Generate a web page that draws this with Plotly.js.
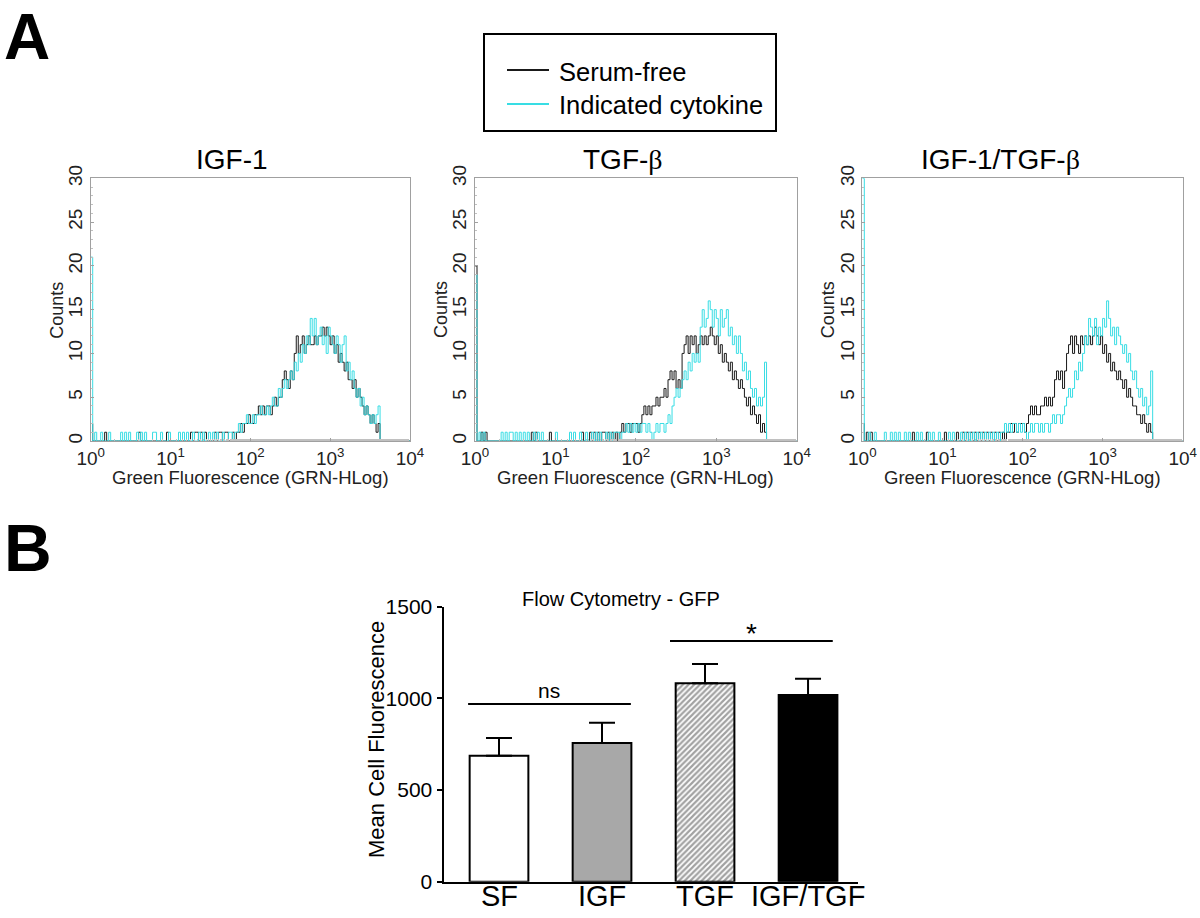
<!DOCTYPE html>
<html>
<head>
<meta charset="utf-8">
<script src="https://cdn.plot.ly/plotly-3.0.1.min.js"></script>
<style>html,body{margin:0;padding:0;background:#fff;}#chart{width:1200px;height:918px;}</style>
</head>
<body>
<div id="chart"></div>
<script>
// ---------- Panel A: flow cytometry histograms (counts per log channel, 40 channels/decade) ----------
const channelsPerDecade = 40;
const panelTitles = ['IGF-1', 'TGF-<span style="font-family:\'Liberation Serif\',serif">β</span>', 'IGF-1/TGF-<span style="font-family:\'Liberation Serif\',serif">β</span>'];
const seriesNames = ['Serum-free', 'Indicated cytokine'];
const xTickVals = [1, 10, 100, 1000, 10000];
const xTickText = ['10<sup>0</sup>', '10<sup>1</sup>', '10<sup>2</sup>', '10<sup>3</sup>', '10<sup>4</sup>'];
const yTickVals = [0, 5, 10, 15, 20, 25, 30];

const igfSerumFree = [
 2,0,0,0,0,0,0,1,0,0, 0,0,0,0,0,0,0,0,0,0, 0,0,0,0,1,0,0,0,0,0, 0,0,0,0,0,0,0,0,1,0,
 0,0,0,0,0,0,0,0,0,0, 1,0,1,1,0,1,0,1,0,0, 0,0,1,0,1,1,0,1,1,0, 0,1,0,1,1,2,1,2,2,3,
 2,2,3,3,4,3,4,3,4,4, 3,4,5,4,5,5,7,8,7,6, 8,7,10,12,10,11,12,10,11,12, 11,11,12,11,12,12,13,12,13,12,
 11,12,10,11,9,10,9,8,9,7, 7,6,7,5,6,5,4,3,4,3, 2,3,2,1,2,0,0,0,0,0, 0,0,0,0,0,0,0,0,0,0];
const igfCytokine = [
 21,0,1,0,0,1,0,0,0,1, 0,0,0,0,0,1,0,1,0,1, 0,0,0,1,0,1,0,1,0,0, 0,1,1,0,0,1,0,0,0,1,
 0,0,0,0,1,0,1,0,1,0, 0,1,0,0,1,0,1,0,0,1, 0,1,0,1,0,0,1,0,0,1, 1,0,1,1,2,1,2,2,3,2,
 2,3,2,3,3,4,3,3,4,3, 4,5,4,4,6,5,6,7,6,7, 8,7,9,8,10,9,11,10,12,11, 14,12,14,11,12,13,11,12,10,13,
 12,11,10,12,11,9,11,12,8,9, 7,8,6,5,6,4,5,3,4,3, 2,3,2,3,4,0,0,0,0,0, 0,0,0,0,0,0,0,0,0,0];
const tgfSerumFree = [
 20,0,0,1,0,1,0,0,0,0, 0,0,0,0,0,0,0,0,0,0, 0,0,0,0,0,0,0,0,1,0, 1,0,0,0,0,0,0,1,0,0,
 0,0,0,0,0,0,0,0,0,0, 0,0,0,1,0,0,0,1,0,1, 0,1,0,1,1,0,1,0,1,0, 1,0,1,2,1,2,2,1,2,2,
 2,1,2,3,4,3,4,3,4,4, 5,4,5,5,6,5,7,8,7,8, 6,7,6,10,11,12,10,12,11,12, 10,11,12,11,12,11,12,13,12,11,
 12,10,11,9,10,9,8,9,7,8, 7,6,7,6,5,4,5,3,4,3, 2,3,1,2,1,0,0,0,0,0, 0,0,0,0,0,0,0,0,0,0];
const tgfCytokine = [
 19,0,1,0,1,0,0,0,0,0, 0,0,0,1,0,1,0,1,1,0, 1,0,1,0,1,0,1,0,0,1, 0,1,0,1,0,0,0,0,0,0,
 1,0,0,0,0,0,0,1,0,1, 0,0,1,0,0,1,0,0,1,0, 1,0,1,0,0,1,0,1,0,1, 1,1,0,1,1,2,1,2,1,2,
 1,2,1,2,2,1,2,1,0,1, 2,1,2,2,1,2,3,2,4,5, 6,5,6,7,8,7,9,8,10,9, 10,9,13,15,13,14,16,15,13,15,
 14,12,15,13,14,15,12,13,11,12, 10,12,10,8,9,7,8,6,5,6, 4,5,4,5,9,0,0,0,0,0, 0,0,0,0,0,0,0,0,0,0];
const comboSerumFree = [
 2,0,1,0,1,0,0,0,0,0, 0,0,0,0,0,0,0,0,0,0, 0,0,0,0,0,1,0,0,0,0, 0,0,1,0,0,0,0,0,0,0,
 0,1,0,0,0,0,0,1,0,0, 1,0,1,0,1,0,1,0,1,0, 1,0,1,0,1,0,1,0,1,0, 1,0,1,1,2,1,2,1,2,2,
 2,1,2,3,4,3,4,3,3,4, 4,5,4,5,4,5,7,8,7,8, 6,8,10,11,12,10,12,11,10,12, 11,12,11,12,11,12,13,12,11,12,
 10,11,9,10,8,9,8,7,8,7, 6,7,5,6,5,4,4,3,3,2, 3,2,1,2,1,0,0,0,0,0, 0,0,0,0,0,0,0,0,0,0];
const comboCytokine = [
 30,0,0,1,0,0,1,0,0,0, 0,1,0,0,1,0,1,0,1,0, 0,1,0,1,0,0,0,1,0,1, 0,0,0,1,0,1,0,0,1,0,
 0,0,0,1,0,1,0,0,0,1, 0,1,0,1,0,1,0,1,0,1, 0,1,0,1,0,1,0,1,0,1, 1,2,1,2,1,2,2,1,2,1,
 2,1,0,1,2,1,2,2,1,2, 1,2,2,1,2,3,2,3,3,2, 3,4,5,6,5,6,8,7,9,8, 10,12,11,14,13,12,14,11,13,12,
 14,13,16,14,12,13,11,13,12,11, 10,11,9,10,8,7,8,6,5,6, 4,5,3,4,8,0,0,0,0,0, 0,0,0,0,0,0,0,0,0,0];

// ---------- Panel B: bar chart ----------
const barCategories = ['SF', 'IGF', 'TGF', 'IGF/TGF'];
const barMeans = [687, 757, 1082, 1018];
const barSEM = [97, 110, 105, 89];
const barColors = ['#ffffff', '#a8a8a8', '#ffffff', '#000000'];
const barPatterns = ['', '', '/', ''];
const sigLabels = ['ns', '*'];

// ---------- helpers (layout positions in pixels -> paper) ----------
const W = 1200, H = 918;
const px = v => v / W;
const py = v => 1 - v / H;
const FONT = 'Liberation Sans, Arial, Helvetica, sans-serif';

// channel edges for log histogram bins
const nCh = igfSerumFree.length;
const channelEdges = [];
for (let i = 0; i <= nCh; i++) channelEdges.push(Math.pow(10, i / channelsPerDecade));

const BLACK = '#1a1a1a', CYAN = '#38dde4';
const histSets = [[igfSerumFree, igfCytokine], [tgfSerumFree, tgfCytokine], [comboSerumFree, comboCytokine]];
const panelPx = [[90.7, 410], [475, 796.7], [862.3, 1182.7]];
const histTop = 178.3, histBottom = 441;

const traces = [];
const layout = {
  width: W, height: H,
  margin: {l: 0, r: 0, t: 0, b: 0},
  paper_bgcolor: '#fff', plot_bgcolor: 'rgba(0,0,0,0)',
  font: {family: FONT, color: '#000'},
  showlegend: false,
  shapes: [], annotations: []
};

histSets.forEach((pair, k) => {
  const n = k + 1;
  const xa = n === 1 ? 'x' : 'x' + n, ya = n === 1 ? 'y' : 'y' + n;
  pair.forEach((counts, s) => {
    traces.push({
      type: 'scatter', mode: 'lines', name: seriesNames[s],
      x: channelEdges, y: counts.concat([0]),
      line: {shape: 'hv', color: s === 0 ? BLACK : CYAN, width: 1},
      xaxis: xa, yaxis: ya, hoverinfo: 'skip'
    });
  });
  layout['xaxis' + (n === 1 ? '' : n)] = {
    type: 'log', range: [0, 4], domain: [px(panelPx[k][0]), px(panelPx[k][1])], anchor: ya,
    showline: true, mirror: true, linecolor: '#a0a0a0', linewidth: 1,
    ticks: 'inside', ticklen: 3, tickcolor: '#a0a0a0',
    tickvals: xTickVals, ticktext: xTickText,
    tickfont: {size: 19, color: '#222', family: FONT},
    showgrid: false, zeroline: false,
    minor: {ticks: 'inside', ticklen: 2, tickcolor: '#c0c0c0', showgrid: false}
  };
  layout['yaxis' + (n === 1 ? '' : n)] = {
    range: [0, 30], domain: [py(histBottom), py(histTop)], anchor: xa,
    showline: true, mirror: true, linecolor: '#a0a0a0', linewidth: 1,
    ticks: 'inside', ticklen: 3, tickcolor: '#a0a0a0',
    tickvals: yTickVals, tickangle: -90,
    tickfont: {size: 19, color: '#222', family: FONT},
    showgrid: false, zeroline: false,
    minor: {dtick: 1, ticks: 'inside', ticklen: 2, tickcolor: '#c0c0c0', showgrid: false}
  };
  const cx = (panelPx[k][0] + panelPx[k][1]) / 2;
  const titleX = [232, 623, 1001][k];
  layout.annotations.push(
    {text: panelTitles[k], x: px(titleX), y: py(159), xref: 'paper', yref: 'paper', showarrow: false,
     xanchor: 'center', yanchor: 'middle', font: {size: 28, color: '#000', family: FONT}},
    {text: 'Green Fluorescence (GRN-HLog)', x: px(cx), y: py(477), xref: 'paper', yref: 'paper', showarrow: false,
     xanchor: 'center', yanchor: 'middle', font: {size: 18.5, color: '#222', family: FONT}},
    {text: 'Counts', x: px(panelPx[k][0] - 34), y: py(310), xref: 'paper', yref: 'paper', showarrow: false,
     textangle: -90, xanchor: 'center', yanchor: 'middle', font: {size: 18, color: '#222', family: FONT}}
  );
});

// Legend (manual box)
layout.shapes.push(
  {type: 'rect', xref: 'paper', yref: 'paper', x0: px(484), x1: px(776), y0: py(131), y1: py(34),
   line: {color: '#000', width: 2}, fillcolor: 'rgba(0,0,0,0)'},
  {type: 'line', xref: 'paper', yref: 'paper', x0: px(507), x1: px(549), y0: py(70), y1: py(70), line: {color: BLACK, width: 2}},
  {type: 'line', xref: 'paper', yref: 'paper', x0: px(507), x1: px(549), y0: py(104), y1: py(104), line: {color: CYAN, width: 2}}
);
layout.annotations.push(
  {text: seriesNames[0], x: px(557), y: py(72), xref: 'paper', yref: 'paper', showarrow: false,
   xanchor: 'left', yanchor: 'middle', font: {size: 25.5, color: '#000', family: FONT}},
  {text: seriesNames[1], x: px(557), y: py(105), xref: 'paper', yref: 'paper', showarrow: false,
   xanchor: 'left', yanchor: 'middle', font: {size: 25.5, color: '#000', family: FONT}},
  {text: '<b>A</b>', x: px(27), y: 1, xref: 'paper', yref: 'paper', showarrow: false, borderpad: 0,
   xanchor: 'center', yanchor: 'top', font: {size: 64, color: '#000', family: FONT}},
  {text: '<b>B</b>', x: px(28), y: py(548), xref: 'paper', yref: 'paper', showarrow: false,
   xanchor: 'center', yanchor: 'middle', font: {size: 66, color: '#000', family: FONT}}
);

// Bar chart
traces.push({
  type: 'bar', x: barCategories, y: barMeans, width: 0.57,
  marker: {color: barColors, line: {color: '#000', width: 2},
           pattern: {shape: barPatterns, fgcolor: '#000', bgcolor: '#fff', size: 4, solidity: 0.55, fillmode: 'overlay'}},
  error_y: {type: 'data', array: barSEM, arrayminus: barSEM.map(() => 0), symmetric: false,
            color: '#000', thickness: 2, width: 13, visible: true},
  xaxis: 'x4', yaxis: 'y4', hoverinfo: 'skip'
});
layout.xaxis4 = {
  type: 'category', range: [-0.534, 3.485], domain: [px(444), px(858)], anchor: 'y4',
  showline: true, linecolor: '#000', linewidth: 2.5, ticks: '', showgrid: false, zeroline: false,
  showticklabels: false
};
layout.yaxis4 = {
  range: [0, 1500], domain: [py(881.7), py(606.7)], anchor: 'x4',
  showline: true, linecolor: '#000', linewidth: 2.5, ticks: 'outside', ticklen: 5, tickwidth: 2, tickcolor: '#000',
  tickvals: [0, 500, 1000, 1500], showgrid: false, zeroline: false,
  tickfont: {size: 21, color: '#000', family: FONT}
};
// category labels placed tight under the axis, as in the reference
barCategories.forEach(c => {
  layout.annotations.push({text: c, x: c, y: py(896), xref: 'x4', yref: 'paper', showarrow: false,
    xanchor: 'center', yanchor: 'middle', font: {size: 29, color: '#000', family: FONT}});
});
layout.shapes.push(
  {type: 'line', xref: 'x4', yref: 'y4', x0: -0.3, x1: 1.28, y0: 969, y1: 969, line: {color: '#000', width: 2}},
  {type: 'line', xref: 'x4', yref: 'y4', x0: 1.66, x1: 3.24, y0: 1313, y1: 1313, line: {color: '#000', width: 2}}
);
layout.annotations.push(
  {text: sigLabels[0], x: 0.49, y: 969, xref: 'x4', yref: 'y4', showarrow: false, xanchor: 'center', yanchor: 'bottom',
   font: {size: 21, color: '#000', family: FONT}},
  {text: sigLabels[1], x: 2.45, y: 1313, xref: 'x4', yref: 'y4', showarrow: false, xanchor: 'center', yanchor: 'bottom',
   yshift: -10, font: {size: 28, color: '#000', family: FONT}},
  {text: 'Flow Cytometry - GFP', x: px(621), y: py(599), xref: 'paper', yref: 'paper', showarrow: false,
   xanchor: 'center', yanchor: 'middle', font: {size: 20, color: '#000', family: FONT}},
  {text: 'Mean Cell Fluorescence', x: px(376), y: py(740), xref: 'paper', yref: 'paper', showarrow: false,
   textangle: -90, xanchor: 'center', yanchor: 'middle', font: {size: 22, color: '#000', family: FONT}}
);

Plotly.newPlot('chart', traces, layout, {displayModeBar: false, staticPlot: true});
</script>
</body>
</html>
